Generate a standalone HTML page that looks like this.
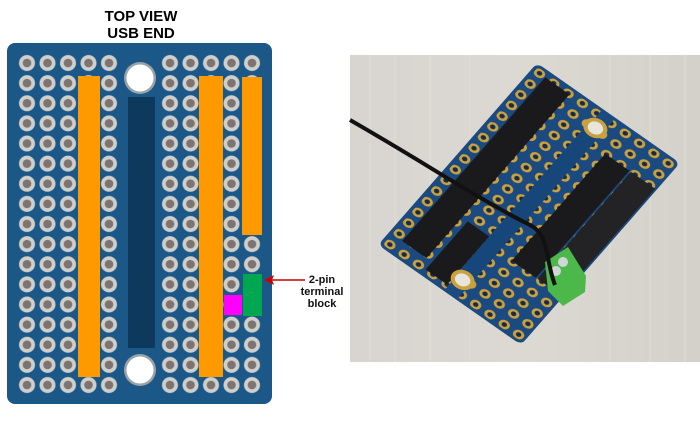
<!DOCTYPE html>
<html><head><meta charset="utf-8"><style>
html,body{margin:0;padding:0;background:#fff;}
body{width:700px;height:416px;overflow:hidden;}
</style></head><body>
<svg width="700" height="416" viewBox="0 0 700 416" xmlns="http://www.w3.org/2000/svg">
<defs>
<pattern id="h" patternUnits="userSpaceOnUse" x="16.75" y="52.94" width="20.5" height="20.125">
<circle cx="10.25" cy="10.06" r="8" fill="#cfcfcc"/><circle cx="10.25" cy="10.06" r="4.3" fill="#7d7370"/>
</pattern>
<pattern id="h2" patternUnits="userSpaceOnUse" x="159.75" y="52.94" width="20.5" height="20.125">
<circle cx="10.25" cy="10.06" r="8" fill="#cfcfcc"/><circle cx="10.25" cy="10.06" r="4.3" fill="#7d7370"/>
</pattern>
<pattern id="g" patternUnits="userSpaceOnUse" x="0" y="0" width="1" height="1">
<circle cx="0.5" cy="0.5" r="0.33" fill="#c9a23e"/><circle cx="0.5" cy="0.5" r="0.16" fill="#1b2a4a"/>
</pattern>
<linearGradient id="wood" x1="0" y1="0" x2="1" y2="0">
<stop offset="0" stop-color="#d8d4cf"/><stop offset="0.5" stop-color="#dcd8d2"/><stop offset="1" stop-color="#d4d0ca"/>
</linearGradient>
</defs>
<!-- left diagram -->
<text x="141" y="21" font-family="Liberation Sans, sans-serif" font-weight="bold" font-size="15" text-anchor="middle">TOP VIEW</text>
<text x="141" y="38" font-family="Liberation Sans, sans-serif" font-weight="bold" font-size="15" text-anchor="middle">USB END</text>
<rect x="7" y="43" width="265" height="361" rx="8" fill="#1b5888"/>
<rect x="16.75" y="52.94" width="102.5" height="342" fill="url(#h)"/>
<rect x="159.75" y="52.94" width="102.5" height="342" fill="url(#h2)"/>
<rect x="128" y="97" width="27" height="251" fill="#0d3a5c"/>
<circle cx="140" cy="78" r="16" fill="#9aa3a8"/><circle cx="140" cy="78" r="13.5" fill="#fff"/>
<circle cx="140" cy="370" r="16" fill="#9aa3a8"/><circle cx="140" cy="370" r="13.5" fill="#fff"/>
<rect x="78" y="76" width="22" height="301" fill="#ff9900"/>
<rect x="199" y="76" width="24" height="301" fill="#ff9900"/>
<rect x="242" y="77" width="20" height="158" fill="#ff9900"/>
<rect x="224" y="295" width="18" height="20" fill="#ff00ff"/>
<rect x="243" y="274" width="19" height="42" fill="#00a650"/>
<line x1="305" y1="280" x2="272" y2="280" stroke="#cc0000" stroke-width="1.5"/>
<polygon points="264,280 274,275 272,280 274,285" fill="#cc0000"/>
<g font-family="Liberation Sans, sans-serif" font-weight="bold" font-size="11" text-anchor="middle" fill="#111">
<text x="322" y="283">2-pin</text><text x="322" y="295">terminal</text><text x="322" y="307">block</text></g>
<!-- photo -->
<rect x="350" y="55" width="350" height="307" fill="url(#wood)"/>
<g stroke="#e6e3de" stroke-width="1" opacity="0.7">
<line x1="370" y1="55" x2="370" y2="362"/><line x1="395" y1="55" x2="395" y2="362"/><line x1="430" y1="55" x2="430" y2="362"/><line x1="470" y1="55" x2="470" y2="362"/><line x1="610" y1="55" x2="610" y2="362"/><line x1="650" y1="55" x2="650" y2="362"/><line x1="685" y1="55" x2="685" y2="362"/></g>
<g transform="matrix(14.3,10,-9.35,10.7,537,63)">
<rect x="0" y="0" width="10" height="17" rx="0.4" fill="#1a4a80"/>
<rect x="0.2" y="0.2" width="4.4" height="16.6" fill="url(#g)"/>
<rect x="5.5" y="0.2" width="4.4" height="16.6" fill="url(#g)"/>
<rect x="4.5" y="2" width="1" height="13" fill="#16467a"/>
<rect x="0.9" y="0.5" width="1.7" height="15.3" fill="#1a1a1c"/>
<rect x="3" y="12" width="1.5" height="4.5" fill="#1a1a1c"/>
<rect x="6.4" y="2.5" width="1.7" height="10" fill="#1a1a1c"/>
<rect x="8.2" y="2.5" width="1.7" height="10" fill="#232325"/>
<circle cx="5" cy="1.4" r="0.7" fill="#c9a23e"/><circle cx="5" cy="1.4" r="0.45" fill="#e8e4de"/>
<circle cx="5" cy="15.6" r="0.7" fill="#c9a23e"/><circle cx="5" cy="15.6" r="0.45" fill="#e8e4de"/>
</g>
<polygon points="545,262 568,247 586,276 585,292 563,306 548,291" fill="#4cb84a"/>
<circle cx="563" cy="262" r="5" fill="#cfd6d8"/><circle cx="556" cy="271" r="5" fill="#cfd6d8"/>
<path d="M350,120 C420,160 480,200 530,225 C550,235 545,260 555,285" stroke="#111" stroke-width="4" fill="none"/>
</svg>
</body></html>
